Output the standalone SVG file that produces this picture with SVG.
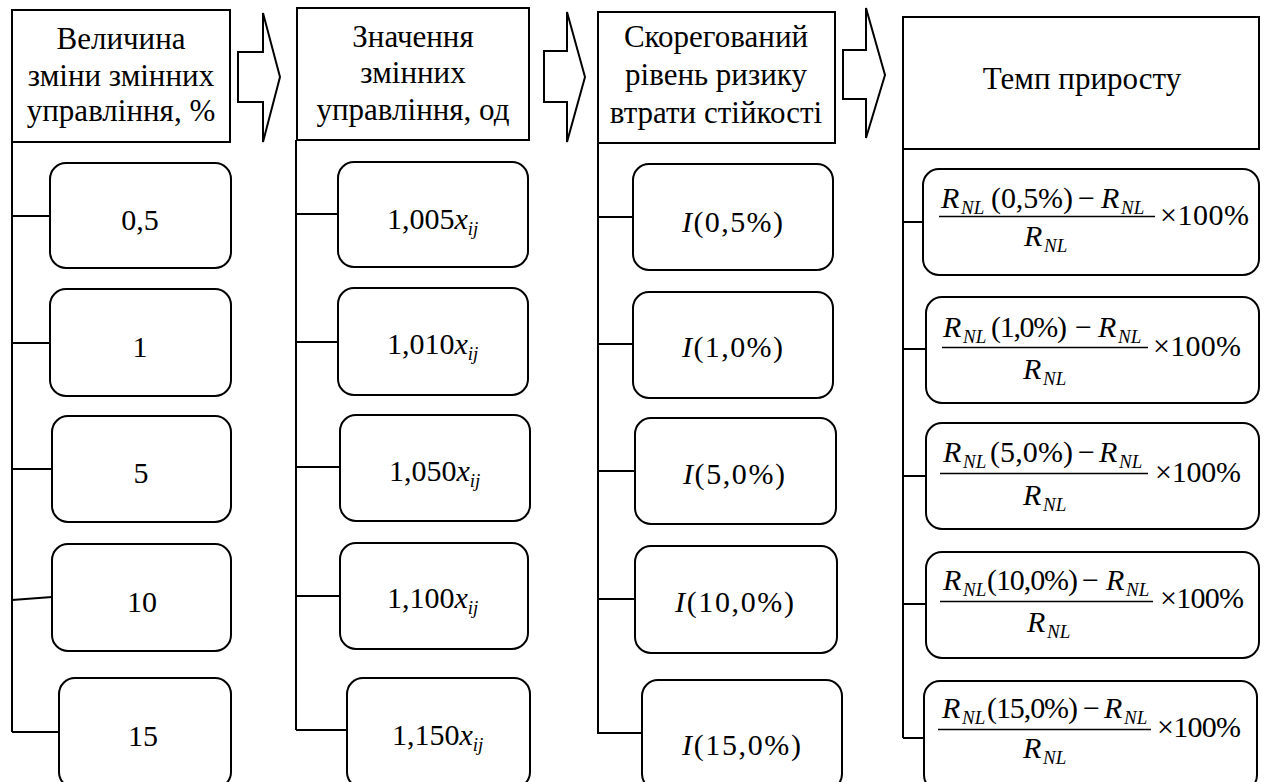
<svg xmlns="http://www.w3.org/2000/svg" width="1265" height="782" viewBox="0 0 1265 782" font-family="'Liberation Serif', 'DejaVu Serif', serif">
  <style>
    text { font-family: 'Liberation Serif', 'DejaVu Serif', serif; fill: #000; }
    .hd { font-size: 31px; text-anchor: middle; }
    .val { font-size: 30px; }
    .c { text-anchor: middle; }
    .it { font-style: italic; }
    .sub { font-size: 19px; font-style: italic; }
    .box { fill: #fff; stroke: #000; stroke-width: 2; }
    .node { fill: #fff; stroke: #000; stroke-width: 2; }
    .wire { fill: none; stroke: #000; stroke-width: 2; }
    .frac { stroke: #000; stroke-width: 1.3; }
  </style>

  <!-- connectors: vertical trunks and branches to each child box -->
  <g id="connectors">
    <path class="wire" d="M12,142 V732 M12,216 H50 M12,343 H50 M12,469 H52 M12,600 L52,597 M12,732 H59"/>
    <path class="wire" d="M296,140 V730 M296,214 H338 M296,342 H338 M296,467 H340 M296,596 H340 M296,730 H347"/>
    <path class="wire" d="M598,143 V734 M598,217 H633 M598,344 H633 M598,471 H635 M598,599 H635 M598,733 H642"/>
    <path class="wire" d="M903,149 V738 M903,222 H926 M903,349 H926 M903,476 H926 M903,604 H926 M903,738 H924"/>
    <!-- block arrows between the column headers -->
    <polygon class="box" points="238,52 263,52 263,13 280,77 263,142 263,102 238,102"/>
    <polygon class="box" points="544,51 567,51 567,12 585,77 567,142 567,102 544,102"/>
    <polygon class="box" points="843,50 866,50 866,8 885,75 866,138 866,99 843,99"/>
  </g>

  <!-- column 1 -->
  <g id="h1">
    <rect class="box" x="12" y="10" width="218" height="132"/>
    <text class="hd" x="121" y="49">Величина</text>
    <text class="hd" x="121" y="86">зміни змінних</text>
    <text class="hd" x="121" y="121">управління, %</text>
  </g>
  <g id="a1"><rect class="node" x="50" y="163" width="181" height="105" rx="16"/><text class="val c" x="140" y="230">0,5</text></g>
  <g id="a2"><rect class="node" x="50" y="289" width="181" height="107" rx="16"/><text class="val c" x="140" y="357">1</text></g>
  <g id="a3"><rect class="node" x="52" y="416" width="179" height="106" rx="16"/><text class="val c" x="141" y="483">5</text></g>
  <g id="a4"><rect class="node" x="52" y="544" width="179" height="107" rx="16"/><text class="val c" x="142" y="612">10</text></g>
  <g id="a5"><rect class="node" x="59" y="678" width="172" height="110" rx="16"/><text class="val c" x="143" y="746">15</text></g>

  <!-- column 2 -->
  <g id="h2">
    <rect class="box" x="297" y="8" width="232" height="132"/>
    <text class="hd" x="413" y="47">Значення</text>
    <text class="hd" x="413" y="83">змінних</text>
    <text class="hd" x="413" y="120">управління, од</text>
  </g>
  <g id="b1"><rect class="node" x="338" y="162" width="190" height="105" rx="16"/><text class="val" x="387" y="229">1,005<tspan class="it">x</tspan><tspan class="sub" dy="6">ij</tspan></text></g>
  <g id="b2"><rect class="node" x="338" y="288" width="190" height="107" rx="16"/><text class="val" x="387" y="354">1,010<tspan class="it">x</tspan><tspan class="sub" dy="6">ij</tspan></text></g>
  <g id="b3"><rect class="node" x="340" y="415" width="190" height="106" rx="16"/><text class="val" x="389" y="481">1,050<tspan class="it">x</tspan><tspan class="sub" dy="6">ij</tspan></text></g>
  <g id="b4"><rect class="node" x="340" y="543" width="188" height="106" rx="16"/><text class="val" x="387" y="608">1,100<tspan class="it">x</tspan><tspan class="sub" dy="6">ij</tspan></text></g>
  <g id="b5"><rect class="node" x="347" y="678" width="183" height="110" rx="16"/><text class="val" x="392" y="745">1,150<tspan class="it">x</tspan><tspan class="sub" dy="6">ij</tspan></text></g>

  <!-- column 3 -->
  <g id="h3">
    <rect class="box" x="598" y="12" width="237" height="131"/>
    <text class="hd" x="716" y="47">Скорегований</text>
    <text class="hd" x="716" y="85">рівень ризику</text>
    <text class="hd" x="716" y="123">втрати стійкості</text>
  </g>
  <g id="c1"><rect class="node" x="633" y="164" width="200" height="106" rx="16"/><text class="val" x="682" y="232" textLength="101"><tspan class="it">I</tspan>(0,5%)</text></g>
  <g id="c2"><rect class="node" x="633" y="292" width="200" height="106" rx="16"/><text class="val" x="682" y="357" textLength="101"><tspan class="it">I</tspan>(1,0%)</text></g>
  <g id="c3"><rect class="node" x="635" y="418" width="201" height="106" rx="16"/><text class="val" x="683" y="484" textLength="102"><tspan class="it">I</tspan>(5,0%)</text></g>
  <g id="c4"><rect class="node" x="635" y="546" width="202" height="107" rx="16"/><text class="val" x="675" y="612" textLength="119"><tspan class="it">I</tspan>(10,0%)</text></g>
  <g id="c5"><rect class="node" x="642" y="680" width="200" height="110" rx="16"/><text class="val" x="682" y="755" textLength="119"><tspan class="it">I</tspan>(15,0%)</text></g>

  <!-- column 4 -->
  <g id="h4">
    <rect class="box" x="903" y="17" width="356" height="132"/>
    <text class="hd" x="1082" y="89">Темп приросту</text>
  </g>
  <g id="d1">
    <rect class="node" x="923" y="169" width="336" height="106" rx="16"/>
    <text class="val it" x="941" y="208">R</text><text class="sub" x="961" y="214">NL</text>
    <text class="val" x="991" y="208" textLength="82">(0,5%)</text>
    <text class="val" x="1078" y="208">−</text>
    <text class="val it" x="1101" y="208">R</text><text class="sub" x="1121" y="214">NL</text>
    <line class="frac" x1="939" y1="216.5" x2="1155" y2="216.5"/>
    <text class="val it" x="1024" y="246">R</text><text class="sub" x="1044" y="252">NL</text>
    <text class="val" x="1160" y="225" textLength="89">×100%</text>
  </g>
  <g id="d2">
    <rect class="node" x="926" y="297" width="333" height="106" rx="16"/>
    <text class="val it" x="943" y="337">R</text><text class="sub" x="963" y="343">NL</text>
    <text class="val" x="991" y="337" textLength="76">(1,0%)</text>
    <text class="val" x="1075" y="337">−</text>
    <text class="val it" x="1098" y="337">R</text><text class="sub" x="1118" y="343">NL</text>
    <line class="frac" x1="942" y1="347.5" x2="1148" y2="347.5"/>
    <text class="val it" x="1023" y="379">R</text><text class="sub" x="1043" y="385">NL</text>
    <text class="val" x="1153" y="356" textLength="88">×100%</text>
  </g>
  <g id="d3">
    <rect class="node" x="926" y="423" width="333" height="106" rx="16"/>
    <text class="val it" x="943" y="462">R</text><text class="sub" x="963" y="468">NL</text>
    <text class="val" x="990" y="462" textLength="83">(5,0%)</text>
    <text class="val" x="1078" y="462">−</text>
    <text class="val it" x="1099" y="462">R</text><text class="sub" x="1119" y="468">NL</text>
    <line class="frac" x1="940" y1="473.5" x2="1148" y2="473.5"/>
    <text class="val it" x="1023" y="505">R</text><text class="sub" x="1043" y="511">NL</text>
    <text class="val" x="1155" y="482" textLength="86">×100%</text>
  </g>
  <g id="d4">
    <rect class="node" x="926" y="552" width="333" height="106" rx="16"/>
    <text class="val it" x="943" y="590">R</text><text class="sub" x="963" y="596">NL</text>
    <text class="val" x="987" y="590" textLength="91">(10,0%)</text>
    <text class="val" x="1082" y="590">−</text>
    <text class="val it" x="1106" y="590">R</text><text class="sub" x="1126" y="596">NL</text>
    <line class="frac" x1="940" y1="601.5" x2="1153" y2="601.5"/>
    <text class="val it" x="1027" y="632">R</text><text class="sub" x="1047" y="638">NL</text>
    <text class="val" x="1160" y="608" textLength="84">×100%</text>
  </g>
  <g id="d5">
    <rect class="node" x="924" y="681" width="333" height="110" rx="16"/>
    <text class="val it" x="942" y="718">R</text><text class="sub" x="962" y="724">NL</text>
    <text class="val" x="987" y="718" textLength="91">(15,0%)</text>
    <text class="val" x="1083" y="718">−</text>
    <text class="val it" x="1104" y="718">R</text><text class="sub" x="1124" y="724">NL</text>
    <line class="frac" x1="938" y1="729.5" x2="1151" y2="729.5"/>
    <text class="val it" x="1023" y="758">R</text><text class="sub" x="1043" y="764">NL</text>
    <text class="val" x="1157" y="737" textLength="84">×100%</text>
  </g>
</svg>
